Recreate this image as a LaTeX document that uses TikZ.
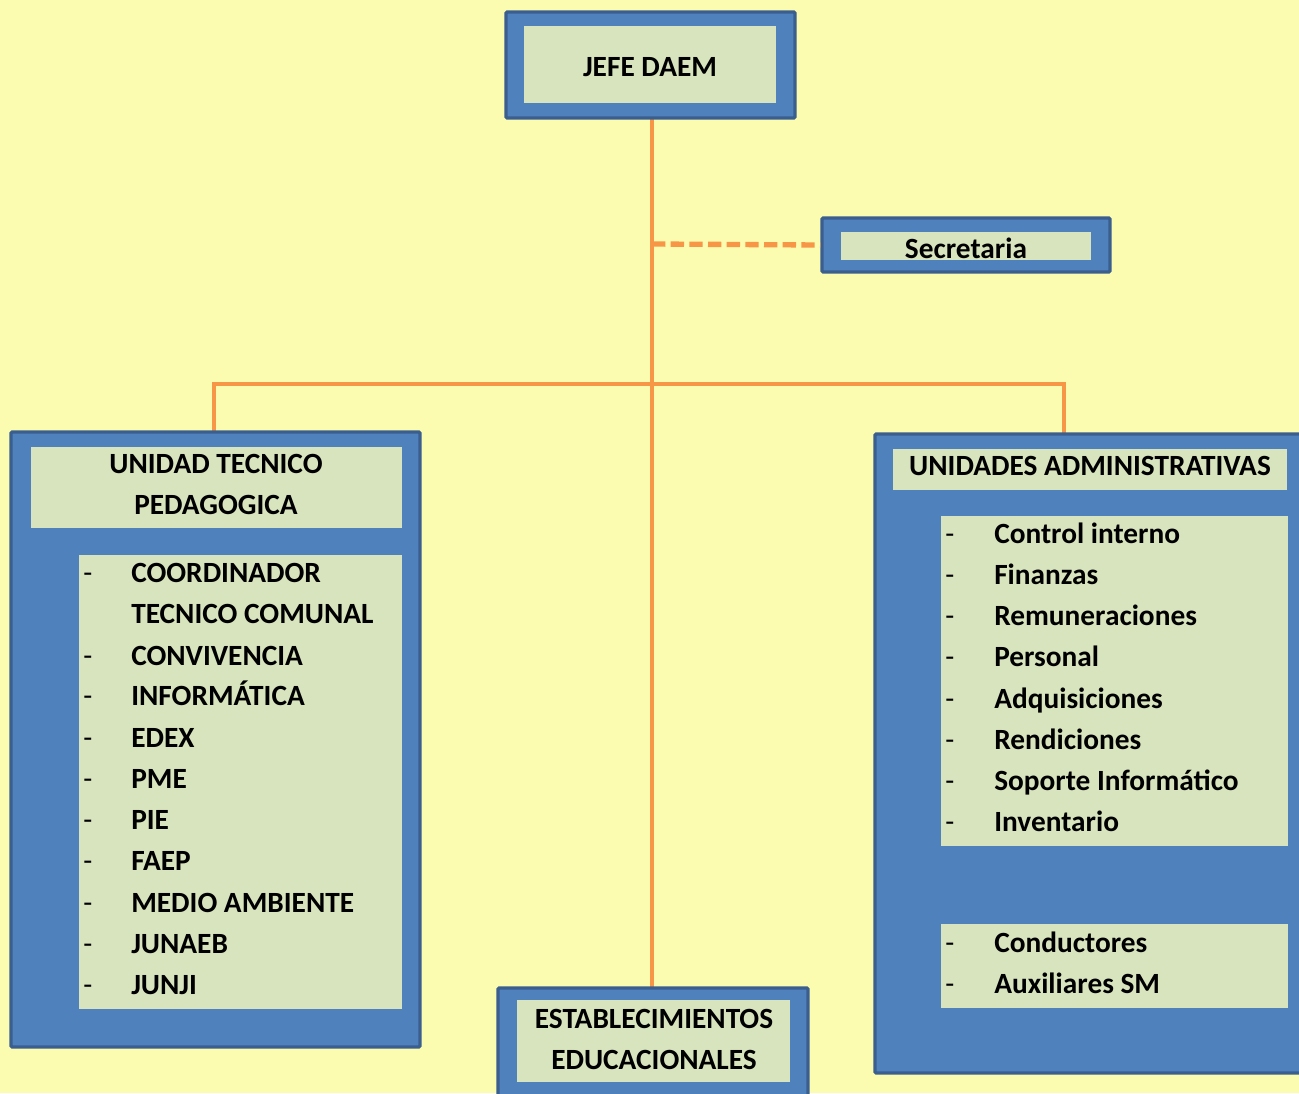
\documentclass[tikz,border=0pt]{standalone}
\usepackage{fontspec}
\setmainfont{Carlito}
\usetikzlibrary{fit}
\definecolor{bgyellow}{HTML}{FCFCB0}
\definecolor{boxblue}{HTML}{4F81BD}
\definecolor{boxedge}{HTML}{3A5F8E}
\definecolor{innerfill}{HTML}{D8E4BD}
\definecolor{lineorange}{HTML}{F79646}
\tikzset{
  outerbox/.style={draw=boxedge, line width=2.5pt, fill=boxblue, inner sep=0pt, rounded corners=1pt},
  innerbox/.style={fill=innerfill, inner sep=0pt},
  txt/.style={font=\fontsize{22}{26}\selectfont\bfseries, inner sep=0pt, text=black, text height=1.25em, text depth=0em},
  itemtxt/.style={txt, anchor=west},
  dashtxt/.style={itemtxt, font=\fontsize{22}{26}\selectfont\mdseries},
  conn/.style={draw=lineorange, line width=3pt},
  dashconn/.style={draw=lineorange, line width=4pt, dash pattern=on 10pt off 4pt},
}
\begin{document}
\begin{tikzpicture}[x=0.75pt, y=-0.75pt]
\fill[bgyellow] (0,0) rectangle (1299,1093);
\useasboundingbox (0,0) rectangle (1299,1093);

% connectors (drawn first, under boxes)
\coordinate (jefebot) at (652,118);
\coordinate (estabtop) at (652,990);
\coordinate (hub) at (652,384);
\coordinate (dashstart) at (652,244);
\coordinate (utptop) at (214,434);
\coordinate (admtop) at (1064,436);
\draw[conn] (jefebot) -- (estabtop);
\draw[conn] (utptop) |- (hub) -| (admtop);

% JEFE DAEM
\node[outerbox, fit={(506,12)(795,118)}] (jefe) {};
\node[innerbox, fit={(524,26)(776,103)}] (jefein) {};
\node[txt] (jefetxt) at (650,68) {JEFE DAEM};

% Secretaria
\node[outerbox, fit={(822,218)(1110,272)}] (secre) {};
\node[innerbox, fit={(841,232)(1091,260)}] (secrein) {};
\node[txt] (secretxt) at (966,250) {Secretaria};
\draw[dashconn] (dashstart) -- (secre.west);

% UTP
\node[outerbox, fit={(11,432)(420,1047)}] (utp) {};
\node[innerbox, fit={(31,447)(402,528)}] (utphead) {};
\node[txt] (utpt1) at (216,465) {UNIDAD TECNICO};
\node[txt] (utpt2) at (216,506) {PEDAGOGICA};
\node[innerbox, fit={(79,555)(402,1009)}] (utplist) {};
\foreach \y/\t/\d [count=\i] in {574/COORDINADOR/-, 615/TECNICO COMUNAL/, 657/CONVIVENCIA/-, 697/INFORMÁTICA/-, 739/EDEX/-, 780/PME/-, 821/PIE/-, 862/FAEP/-, 904/MEDIO AMBIENTE/-, 945/JUNAEB/-, 986/JUNJI/-}{
  \node[dashtxt] (utpd\i) at (83,\y) {\d};
  \node[itemtxt] (utpi\i) at (131,\y) {\t};
}

% Administrativas
\node[outerbox, fit={(875,434)(1310,1073)}] (adm) {};
\node[innerbox, fit={(893,449)(1287,490)}] (admhead) {};
\node[txt] (admt) at (1090,467) {UNIDADES ADMINISTRATIVAS};
\node[innerbox, fit={(941,516)(1288,846)}] (admlist) {};
\foreach \y/\t [count=\i] in {535/Control interno, 576/Finanzas, 617/Remuneraciones, 658/Personal, 700/Adquisiciones, 741/Rendiciones, 782/Soporte Informático, 823/Inventario}{
  \node[dashtxt] (admd\i) at (945,\y) {-};
  \node[itemtxt] (admi\i) at (994,\y) {\t};
}
\node[innerbox, fit={(941,924)(1288,1008)}] (admlist2) {};
\foreach \y/\t [count=\i] in {944/Conductores, 985/Auxiliares SM}{
  \node[dashtxt] (admdd\i) at (945,\y) {-};
  \node[itemtxt] (admii\i) at (994,\y) {\t};
}

% Establecimientos
\node[outerbox, fit={(498,988)(808,1105)}] (estab) {};
\node[innerbox, fit={(517,1000)(790,1082)}] (estabin) {};
\node[txt] (estt1) at (654,1020) {ESTABLECIMIENTOS};
\node[txt] (estt2) at (654,1061) {EDUCACIONALES};
\end{tikzpicture}
\end{document}
